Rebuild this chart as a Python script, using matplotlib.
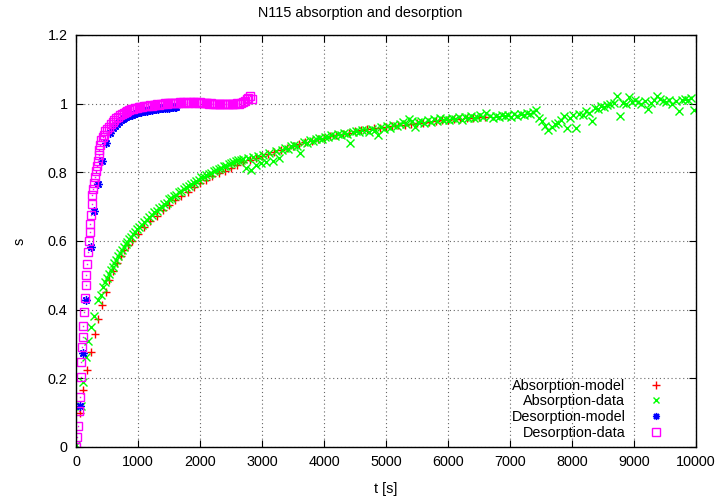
import matplotlib
matplotlib.use("Agg")
import matplotlib.pyplot as plt

plt.rcParams['font.family'] = ['Liberation Sans', 'DejaVu Sans']
plt.rcParams['font.size'] = 10.4

# absorption model
abs_model_t = [60, 120, 180, 240, 300, 360, 420, 480, 540, 600, 660, 720, 780, 840, 900,
               1000, 1100, 1200, 1300, 1400, 1500, 1600, 1700, 1800, 1900,
               2000, 2100, 2200, 2300, 2400, 2500, 2600, 2700, 2800, 2900,
               3000, 3100, 3200, 3300, 3400, 3500, 3600, 3700, 3800, 3900,
               4000, 4100, 4200, 4300, 4400, 4500, 4600, 4700, 4800, 4900,
               5000, 5100, 5200, 5300, 5400, 5500, 5600, 5700, 5800, 5900,
               6000, 6100, 6200, 6300, 6400, 6500, 6600]
abs_model_s = [0.100, 0.166, 0.224, 0.278, 0.328, 0.373, 0.415, 0.452, 0.485, 0.513, 0.537, 0.556, 0.573, 0.588, 0.600,
               0.620, 0.640, 0.658, 0.674, 0.689, 0.704, 0.718, 0.731, 0.744, 0.756,
               0.768, 0.778, 0.788, 0.797, 0.805, 0.813, 0.821, 0.829, 0.836, 0.842,
               0.848, 0.854, 0.860, 0.866, 0.872, 0.877, 0.882, 0.887, 0.892, 0.897,
               0.901, 0.905, 0.909, 0.913, 0.916, 0.919, 0.922, 0.925, 0.928, 0.930,
               0.933, 0.935, 0.937, 0.939, 0.941, 0.943, 0.945, 0.947, 0.949, 0.951,
               0.952, 0.954, 0.955, 0.957, 0.958, 0.960, 0.961]

# absorption measurements
abs_data_t = [0, 77, 120, 158, 201, 249, 298, 351, 399, 437,
              470, 500, 530, 560, 590, 620, 650, 680, 710, 740, 770, 800, 830, 860, 890, 920, 950, 980,
              1020, 1060, 1100, 1140, 1180, 1220, 1260, 1300, 1340, 1380,
              1420, 1460, 1500, 1540, 1580, 1620, 1660, 1700, 1740, 1780,
              1820, 1860, 1900, 1940, 1980, 2020, 2060, 2100, 2140, 2180,
              2220, 2260, 2300, 2340, 2380, 2420, 2460, 2500, 2540, 2580,
              2620, 2660, 2700, 2740, 2780, 2820, 2860, 2900, 2940, 2980,
              3020, 3070, 3120, 3170, 3220, 3270, 3320, 3370, 3420, 3470,
              3520, 3570, 3620, 3670, 3720, 3770, 3820, 3870, 3920, 3970,
              4020, 4070, 4120, 4170, 4220, 4270, 4320, 4370, 4420, 4470,
              4520, 4570, 4620, 4670, 4720, 4770, 4820, 4870, 4920, 4970,
              5020, 5070, 5120, 5170, 5220, 5270, 5320, 5370, 5420, 5470,
              5520, 5570, 5620, 5670, 5720, 5770, 5820, 5870, 5920, 5970,
              6020, 6070, 6120, 6170, 6220, 6270, 6320, 6370, 6420, 6470,
              6520, 6570, 6620, 6670, 6720, 6770, 6820, 6870, 6920, 6970,
              7020, 7070, 7120, 7170, 7220, 7270, 7320, 7370, 7420, 7470,
              7520, 7570, 7620, 7670, 7720, 7770, 7820, 7870, 7920, 7970,
              8020, 8070, 8120, 8170, 8220, 8270, 8320, 8370, 8420, 8470,
              8520, 8570, 8620, 8670, 8720, 8770, 8820, 8870, 8920, 8970,
              9020, 9070, 9120, 9170, 9220, 9270, 9320, 9370, 9420, 9470,
              9520, 9570, 9620, 9670, 9720, 9770, 9820, 9870, 9920, 9970]
abs_data_s = [0.005, 0.120, 0.190, 0.263, 0.309, 0.349, 0.382, 0.427, 0.443, 0.467,
              0.480, 0.492, 0.503, 0.515, 0.524, 0.536, 0.545, 0.556, 0.565, 0.573, 0.583, 0.590, 0.598, 0.606, 0.613, 0.620, 0.627, 0.634,
              0.640, 0.648, 0.655, 0.661, 0.671, 0.676, 0.684, 0.688, 0.697, 0.700,
              0.708, 0.712, 0.721, 0.724, 0.731, 0.734, 0.742, 0.746, 0.751, 0.757,
              0.760, 0.766, 0.770, 0.775, 0.779, 0.785, 0.787, 0.792, 0.796, 0.799,
              0.804, 0.806, 0.811, 0.813, 0.818, 0.819, 0.824, 0.826, 0.830, 0.832,
              0.835, 0.837, 0.839, 0.812, 0.841, 0.808, 0.845, 0.820, 0.848, 0.826,
              0.851, 0.829, 0.857, 0.834, 0.862, 0.841, 0.866, 0.870, 0.868, 0.876,
              0.879, 0.877, 0.855, 0.888, 0.886, 0.893, 0.891, 0.897, 0.899, 0.897,
              0.904, 0.902, 0.908, 0.905, 0.912, 0.909, 0.915, 0.912, 0.885, 0.918,
              0.921, 0.917, 0.924, 0.922, 0.918, 0.927, 0.924, 0.908, 0.931, 0.927,
              0.934, 0.929, 0.937, 0.935, 0.940, 0.947, 0.942, 0.955, 0.950, 0.933,
              0.946, 0.950, 0.944, 0.952, 0.948, 0.955, 0.950, 0.958, 0.952, 0.956,
              0.951, 0.958, 0.955, 0.962, 0.953, 0.960, 0.957, 0.963, 0.958, 0.962,
              0.966, 0.960, 0.972, 0.963, 0.958, 0.965, 0.961, 0.968, 0.963, 0.966,
              0.962, 0.969, 0.965, 0.971, 0.966, 0.974, 0.970, 0.977, 0.982, 0.958,
              0.950, 0.936, 0.924, 0.931, 0.940, 0.944, 0.952, 0.963, 0.929, 0.958,
              0.967, 0.930, 0.970, 0.966, 0.978, 0.972, 0.950, 0.988, 0.985, 0.992,
              0.989, 0.995, 0.998, 1.003, 1.021, 0.963, 1.002, 0.998, 1.019, 1.006,
              1.012, 1.004, 0.999, 1.008, 0.984, 1.003, 1.012, 1.022, 1.015, 1.009,
              1.006, 1.011, 0.999, 1.008, 0.980, 1.012, 1.014, 1.010, 1.016, 0.981]

# desorption model
des_model_t = [66, 120, 169, 240, 295, 353, 424, 477, 544,
               600, 630, 660, 690, 720, 750, 780, 810, 840, 870,
               900, 930, 960, 990, 1020, 1050, 1080, 1110, 1140, 1170,
               1200, 1230, 1260, 1290, 1320, 1350, 1380, 1410, 1440, 1470,
               1500, 1530, 1560, 1590, 1620]
des_model_s = [0.120, 0.273, 0.429, 0.583, 0.687, 0.767, 0.833, 0.886, 0.916,
               0.929, 0.936, 0.942, 0.947, 0.951, 0.955, 0.958, 0.961, 0.964, 0.966,
               0.968, 0.970, 0.972, 0.974, 0.975, 0.977, 0.978, 0.979, 0.980, 0.981,
               0.982, 0.983, 0.984, 0.984, 0.985, 0.986, 0.986, 0.987, 0.987, 0.988,
               0.988, 0.989, 0.989, 0.989, 0.990]

# desorption measurements
des_data_t = [5, 24, 34, 50, 66, 77, 88, 98, 109, 120, 130, 141, 158, 169, 185, 195, 211,
              222, 232, 243, 250, 260, 275, 290, 305, 320, 335, 350, 365, 378, 392, 410, 430, 448, 475,
              500, 530, 560, 590, 620, 650, 680, 710, 740, 770, 800, 830, 860, 890, 920, 950, 980,
              1010, 1040, 1070, 1100, 1130, 1160, 1190, 1220, 1250, 1280,
              1310, 1340, 1370, 1400, 1430, 1460, 1490, 1520, 1550, 1580,
              1610, 1640, 1670, 1700, 1730, 1760, 1790, 1820, 1850, 1880,
              1910, 1940, 1970, 2000, 2030, 2060, 2090, 2120, 2150, 2180,
              2210, 2240, 2270, 2300, 2330, 2360, 2390, 2420, 2450, 2480,
              2510, 2540, 2570, 2600, 2630, 2660, 2690, 2720, 2750, 2780,
              2810, 2840]
des_data_s = [0.000, 0.030, 0.060, 0.106, 0.145, 0.205, 0.249, 0.292, 0.320, 0.353, 0.394, 0.434, 0.472, 0.501, 0.534, 0.568, 0.599,
              0.625, 0.650, 0.676, 0.708, 0.734, 0.752, 0.770, 0.787, 0.803, 0.818, 0.834, 0.850, 0.866, 0.880, 0.893, 0.904, 0.910, 0.919,
              0.926, 0.933, 0.941, 0.947, 0.953, 0.957, 0.962, 0.966, 0.970, 0.974, 0.977, 0.980, 0.982, 0.984, 0.985, 0.987, 0.988,
              0.989, 0.990, 0.991, 0.993, 0.992, 0.994, 0.995, 0.994, 0.996, 0.997,
              0.998, 0.997, 1.000, 0.999, 1.001, 1.000, 1.002, 1.001, 1.003, 1.002,
              1.003, 1.002, 1.004, 1.003, 1.004, 1.002, 1.004, 1.003, 1.005, 1.004,
              1.003, 1.004, 1.002, 1.004, 1.003, 1.001, 1.003, 1.002, 1.000, 1.001,
              0.999, 1.000, 0.998, 0.999, 0.998, 1.000, 0.999, 0.998, 0.999, 1.000,
              0.999, 1.000, 0.999, 1.001, 1.000, 1.002, 1.004, 1.009, 1.013, 1.017,
              1.021, 1.015]

xticks = [0, 1000, 2000, 3000, 4000, 5000, 6000, 7000, 8000, 9000, 10000]
yticks = [0, 0.2, 0.4, 0.6, 0.8, 1, 1.2]
ytick_labels = ["0", "0.2", "0.4", "0.6", "0.8", "1", "1.2"]

fig = plt.figure(figsize=(7.2, 4.98), dpi=100)
ax = fig.add_axes([76/720, 1 - 447/498, 620/720, 412/498])

ax.plot(abs_model_t, abs_model_s, ls="none", marker="+", ms=6, mew=1.0,
        color="#ff0000", label="Absorption-model")
ax.plot(abs_data_t, abs_data_s, ls="none", marker="x", ms=5.5, mew=1.0,
        color="#00ff00", label="Absorption-data")
ax.plot(des_model_t, des_model_s, ls="none", marker=(8, 2, 0), ms=6, mew=1.0,
        color="#0000ff", label="Desorption-model")
ax.plot(des_data_t, des_data_s, ls="none", marker="s", ms=6, mew=1.0,
        mfc="none", color="#ff00ff", label="Desorption-data")
# centre dot of each square
ax.plot(des_data_t, des_data_s, ls="none", marker="s", ms=1.0, mew=0,
        color="#ff00ff")

ax.set_xlim(0, 10000)
ax.set_ylim(0, 1.2)
ax.set_xticks(xticks)
ax.set_yticks(yticks)
ax.set_yticklabels(ytick_labels)
ax.tick_params(direction="in", length=5, width=0.8, top=True, right=True, pad=6)
ax.grid(True, color="#666666", linestyle=(0, (1, 2.5)), linewidth=0.8)
for sp in ax.spines.values():
    sp.set_linewidth(1)

ax.set_xlabel("t [s]", labelpad=9)
ax.set_ylabel("s", rotation=90, labelpad=15)
fig.text(0.5, 1 - 13/498, "N115 absorption and desorption", ha="center", va="center")

leg = ax.legend(loc="lower right", bbox_to_anchor=(0.963, -0.007), frameon=False,
                markerfirst=False, numpoints=1, handlelength=1.0,
                handletextpad=1.6, labelspacing=0.12, borderpad=0.2,
                markerscale=0.85)
for t in leg.get_texts():
    t.set_ha("right")

fig.savefig("out.png", dpi=100)
